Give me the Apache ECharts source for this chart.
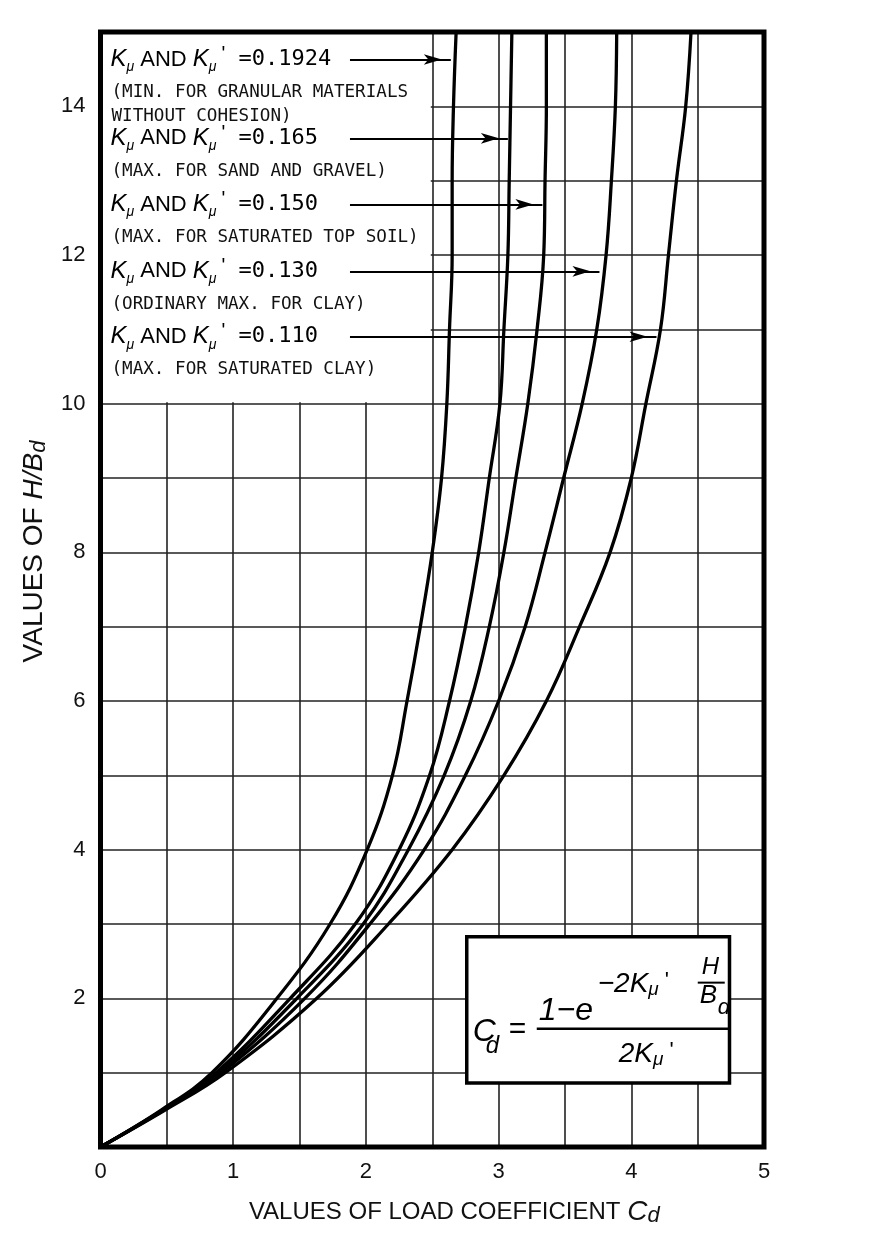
<!DOCTYPE html>
<html>
<head>
<meta charset="utf-8">
<script src="https://cdn.jsdelivr.net/npm/echarts@6/dist/echarts.min.js"></script>
<style>html,body{margin:0;padding:0;background:#fff}#main{width:890px;height:1248px}</style>
</head>
<body>
<div id="main"></div>
<script>
// ---- data ----
const hbValues = [0, 0.5, 1, 2, 3, 4, 5, 6, 7, 8, 9, 10, 11, 12, 13, 14, 15];
const cdK01924 = [0, 0.46, 0.84, 1.33, 1.73, 2.01, 2.20, 2.31, 2.41, 2.50, 2.57, 2.61, 2.63, 2.65, 2.65, 2.66, 2.68];
const cdK0165  = [0, 0.47, 0.87, 1.43, 1.92, 2.25, 2.48, 2.63, 2.75, 2.85, 2.93, 3.01, 3.04, 3.07, 3.08, 3.09, 3.10];
const cdK0150  = [0, 0.47, 0.89, 1.48, 1.98, 2.32, 2.59, 2.79, 2.93, 3.04, 3.13, 3.22, 3.29, 3.34, 3.35, 3.36, 3.36];
const cdK0130  = [0, 0.48, 0.91, 1.54, 2.03, 2.44, 2.75, 3.00, 3.20, 3.35, 3.49, 3.63, 3.74, 3.81, 3.85, 3.88, 3.89];
const cdK0110  = [0, 0.49, 0.94, 1.63, 2.17, 2.65, 3.04, 3.36, 3.61, 3.84, 4.00, 4.11, 4.22, 4.28, 4.34, 4.41, 4.45];
const kLabels = ['0.1924', '0.165', '0.150', '0.130', '0.110'];
const noteLines = [
  ['(MIN. FOR GRANULAR MATERIALS', 'WITHOUT COHESION)'],
  ['(MAX. FOR SAND AND GRAVEL)'],
  ['(MAX. FOR SATURATED TOP SOIL)'],
  ['(ORDINARY MAX. FOR CLAY)'],
  ['(MAX. FOR SATURATED CLAY)']
];
const arrowY = [14.63, 13.57, 12.68, 11.78, 10.90];
const arrowStartX = [1.88, 1.88, 1.88, 1.88, 1.88];
const arrowEndX = [2.64, 3.07, 3.33, 3.76, 4.19];
const xTickLabels = [0, 1, 2, 3, 4, 5];
const yTickLabels = [2, 4, 6, 8, 10, 12, 14];

const curveData = [cdK01924, cdK0165, cdK0150, cdK0130, cdK0110];

const FONT = "'Liberation Sans', Arial, sans-serif";
const MONO = "'DejaVu Sans Mono', 'Liberation Mono', monospace";

const chart = echarts.init(document.getElementById('main'));

const series = curveData.map((cd, i) => ({
  name: 'K = ' + kLabels[i],
  type: 'line',
  smooth: 0.4,
  symbol: 'none',
  silent: true,
  lineStyle: { color: '#000', width: 3.3 },
  data: hbValues.map((h, j) => [cd[j], h]),
  z: 3
}));
series.push({
  type: 'line',
  data: [],
  silent: true,
  z: 4,
  markLine: {
    silent: true,
    symbol: ['none', 'arrow'],
    symbolSize: [8, 18],
    symbolOffset: [0, [0, 9]],
    animation: false,
    label: { show: false },
    lineStyle: { color: '#000', width: 2.2, type: 'solid' },
    data: arrowY.map((y, i) => [{ coord: [arrowStartX[i], y] }, { coord: [arrowEndX[i], y] }])
  }
});

chart.setOption({
  animation: false,
  backgroundColor: '#fff',
  grid: { left: 100.5, right: 126, top: 32, bottom: 101 },
  xAxis: {
    type: 'value', min: 0, max: 5, interval: 0.5,
    axisLine: { show: false }, axisTick: { show: false },
    splitLine: { show: true, lineStyle: { color: '#222', width: 1.6 } },
    axisLabel: {
      margin: 14, fontSize: 22, color: '#111', fontFamily: FONT,
      formatter: v => xTickLabels.includes(v) ? String(v) : ''
    },
    name: '{t|VALUES OF LOAD COEFFICIENT }{c|C}{d|d}',
    nameLocation: 'middle', nameGap: 50,
    nameTextStyle: {
      padding: [0, 0, 0, 44],
      rich: {
        t: { fontSize: 24, fontFamily: FONT, color: '#111', lineHeight: 30, verticalAlign: 'middle' },
        c: { fontSize: 28, fontFamily: FONT, fontStyle: 'italic', color: '#111', lineHeight: 30, verticalAlign: 'middle' },
        d: { fontSize: 22, fontFamily: FONT, fontStyle: 'italic', color: '#111', lineHeight: 18, verticalAlign: 'bottom' }
      }
    }
  },
  yAxis: {
    type: 'value', min: 0, max: 15, interval: 1,
    axisLine: { show: false }, axisTick: { show: false },
    splitLine: { show: true, lineStyle: { color: '#222', width: 1.6 } },
    axisLabel: {
      margin: 15, fontSize: 22, color: '#111', fontFamily: FONT,
      formatter: v => yTickLabels.includes(v) ? String(v) : ''
    },
    name: '{t|VALUES OF }{h|H/B}{d|d}',
    nameLocation: 'middle', nameGap: 38, nameRotate: 90,
    nameTextStyle: {
      padding: [0, 0, 0, 76],
      rich: {
        t: { fontSize: 28, fontFamily: FONT, color: '#111', lineHeight: 32, verticalAlign: 'middle' },
        h: { fontSize: 28, fontFamily: FONT, fontStyle: 'italic', color: '#111', lineHeight: 32, verticalAlign: 'middle' },
        d: { fontSize: 22, fontFamily: FONT, fontStyle: 'italic', color: '#111', lineHeight: 18, verticalAlign: 'bottom' }
      }
    }
  },
  series: series
});

// ---- annotations placed from data coordinates ----
const P = (x, y) => chart.convertToPixel({ gridIndex: 0 }, [x, y]);
const g = [];
const tl = P(0, 15), br = P(5, 0);

// white panel behind the legend text (covers grid lines)
const lb = P(2.5, 10);
g.push({ type: 'rect', z: 1, silent: true,
  shape: { x: tl[0], y: tl[1], width: lb[0] - tl[0] - 1.5, height: lb[1] - tl[1] - 1.5 },
  style: { fill: '#fff' } });

// frame
g.push({ type: 'rect', z: 30, silent: true,
  shape: { x: tl[0], y: tl[1], width: br[0] - tl[0], height: br[1] - tl[1] },
  style: { fill: null, stroke: '#000', lineWidth: 5 } });

const mainRich = {
  k: { fontSize: 24, fontFamily: FONT, fontStyle: 'italic', lineHeight: 30, verticalAlign: 'middle' },
  s: { fontSize: 14, fontFamily: FONT, fontStyle: 'italic', lineHeight: 14, verticalAlign: 'bottom' },
  p: { fontSize: 20, fontFamily: FONT, lineHeight: 16, verticalAlign: 'top', padding: [0, 0, 0, 5] },
  a: { fontSize: 22, fontFamily: FONT, lineHeight: 30, verticalAlign: 'middle' },
  n: { fontSize: 22, fontFamily: MONO, lineHeight: 30, verticalAlign: 'middle' }
};

kLabels.forEach((k, i) => {
  const p = P(0, arrowY[i]);
  g.push({ type: 'text', z: 20, silent: true, x: p[0] + 10, y: p[1],
    style: { text: '{k|K}{s|μ}{a| AND }{k|K}{s|μ}{p|\'}{n| =' + k + '}', rich: mainRich,
      fill: '#000', align: 'left', verticalAlign: 'middle' } });
  noteLines[i].forEach((line, j) => {
    g.push({ type: 'text', z: 20, silent: true, x: p[0] + 11, y: p[1] + 33 + j * 24,
      style: { text: line, fontSize: 17.6, fontFamily: MONO, fill: '#111', align: 'left', verticalAlign: 'middle' } });
  });
});

// formula box
const fb0 = P(2.76, 2.83), fb1 = P(4.74, 0.86);
const bx = fb0[0], by = fb0[1];
g.push({ type: 'rect', z: 25, silent: true,
  shape: { x: bx, y: by, width: fb1[0] - bx, height: fb1[1] - by },
  style: { fill: '#fff', stroke: '#000', lineWidth: 3.5 } });
const fit = (txt, x, y, size, style) => ({ type: 'text', z: 26, silent: true, x: bx + x, y: by + y,
  style: Object.assign({ text: txt, fontSize: size, fontFamily: FONT, fontStyle: 'italic', fill: '#000', align: 'left', verticalAlign: 'middle' }, style || {}) });
const expRich = {
  a: { fontSize: 28, fontFamily: FONT, fontStyle: 'italic', lineHeight: 30, verticalAlign: 'middle' },
  s: { fontSize: 19, fontFamily: FONT, fontStyle: 'italic', lineHeight: 18, verticalAlign: 'bottom' },
  p: { fontSize: 22, fontFamily: FONT, lineHeight: 16, verticalAlign: 'top', padding: [0, 0, 0, 6] }
};
g.push(fit('C', 6, 95, 32));
g.push(fit('d', 19, 110, 24));
g.push(fit('=', 42, 93, 30, { fontStyle: 'normal' }));
g.push({ type: 'line', z: 26, silent: true, shape: { x1: bx + 70, y1: by + 92, x2: bx + 262, y2: by + 92 }, style: { stroke: '#000', lineWidth: 2.5 } });
g.push(fit('1−e', 72, 74, 32));
g.push({ type: 'text', z: 26, silent: true, x: bx + 131, y: by + 48,
  style: { text: '{a|−2K}{s|μ}{p|\'}', fill: '#000', align: 'left', verticalAlign: 'middle', rich: expRich } });
g.push(fit('H', 235, 31, 24));
g.push({ type: 'line', z: 26, silent: true, shape: { x1: bx + 231, y1: by + 46, x2: bx + 258, y2: by + 46 }, style: { stroke: '#000', lineWidth: 2 } });
g.push(fit('B', 233, 59, 26));
g.push(fit('d', 251, 71, 22));
g.push({ type: 'text', z: 26, silent: true, x: bx + 152, y: by + 118,
  style: { text: '{a|2K}{s|μ}{p|\'}', fill: '#000', align: 'left', verticalAlign: 'middle', rich: expRich } });

chart.setOption({ graphic: g });
</script>
</body>
</html>
